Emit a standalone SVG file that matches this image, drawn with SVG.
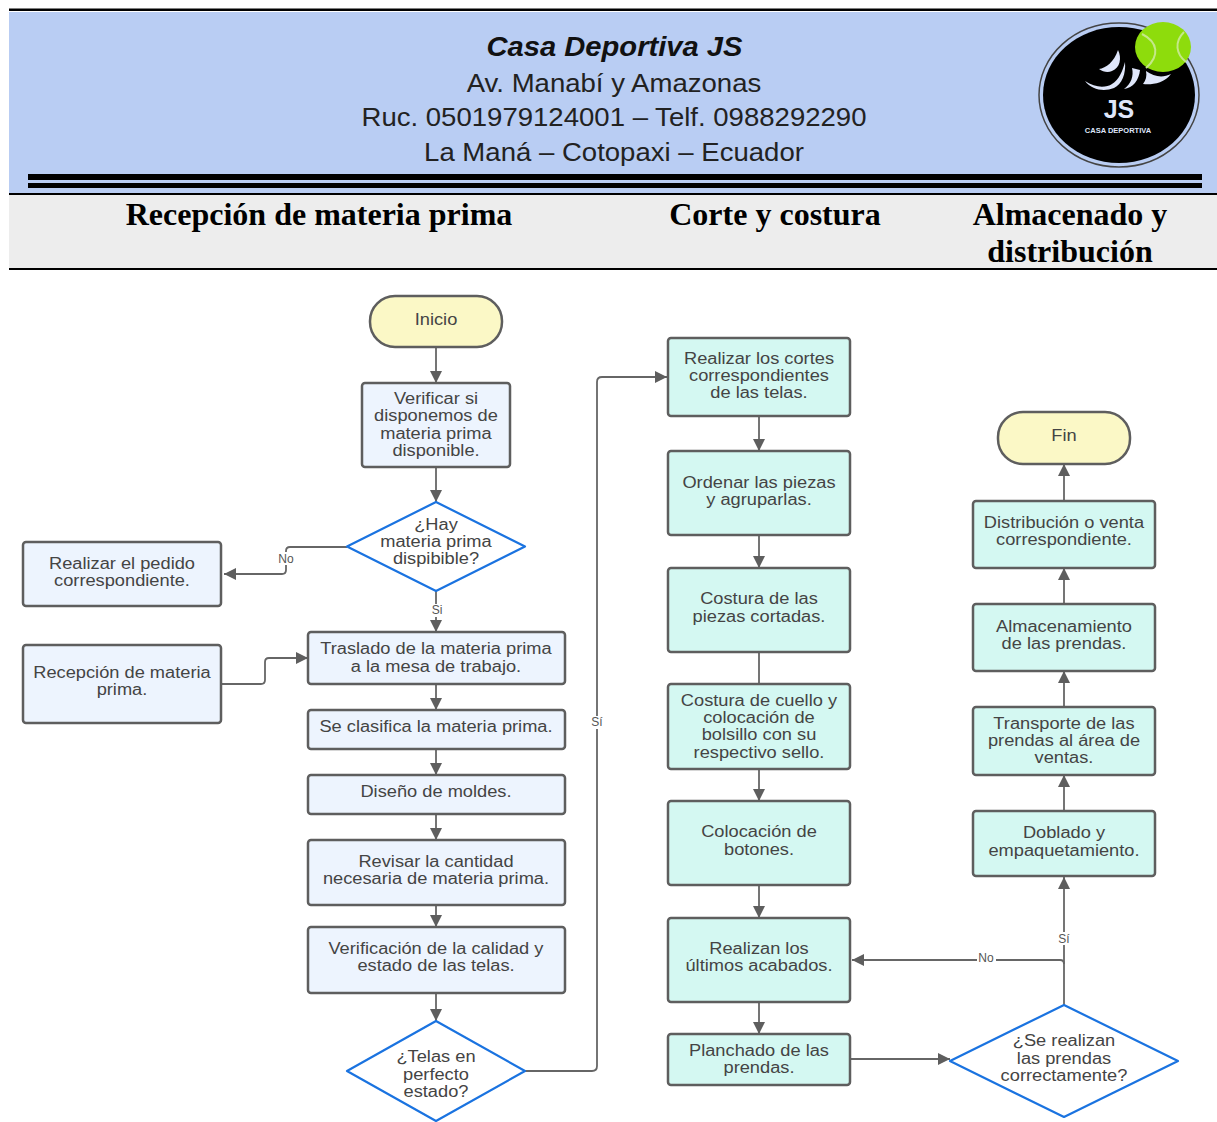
<svg xmlns="http://www.w3.org/2000/svg" width="1217" height="1122" viewBox="0 0 1217 1122">
<style>
.box{stroke:#5e5e5e;stroke-width:2.5}
.a{fill:#edf4fe}.b{fill:#d4f8f2}.t{fill:#fbf8c6}
.d{fill:#fff;stroke:#1a73e0;stroke-width:2.2;stroke-linejoin:round}
.n{font:15.6px "Liberation Sans",Arial,sans-serif;fill:#444;text-anchor:middle;transform-box:fill-box;transform-origin:center;transform:scaleX(1.17)}
.l{font:12px "Liberation Sans",Arial,sans-serif;fill:#555;text-anchor:middle}
.c{fill:none;stroke:#666;stroke-width:1.8}
.h{font:bold 32px "Liberation Serif","Times New Roman",serif;fill:#000;text-anchor:middle}
.a1{font:26px "Liberation Sans",Arial,sans-serif;fill:#222;text-anchor:middle;transform-box:fill-box;transform-origin:center;transform:scaleX(1.06)}
.s{fill:#dfe6fa}
</style>
<defs>
<marker id="ar" markerUnits="userSpaceOnUse" markerWidth="14" markerHeight="12" refX="12" refY="6" orient="auto"><path d="M0 0L12 6L0 12Z" fill="#5e5e5e"/></marker>
</defs>
<rect width="1217" height="1122" fill="#fff"/>
<g id="header">
<rect x="9" y="12" width="1208" height="181" fill="#b9cdf3"/>
<rect x="9" y="8.500" width="1208" height="2.500" fill="#000"/>
<rect x="28" y="174" width="1174" height="6" fill="#000"/>
<rect x="28" y="183" width="1174" height="5" fill="#000"/>
<rect x="9" y="193" width="1208" height="2" fill="#000"/>
<text x="614.500" y="56" text-anchor="middle" style="font:italic bold 27px 'Liberation Sans',Arial,sans-serif;transform-box:fill-box;transform-origin:center;transform:scaleX(1.08)" fill="#111">Casa Deportiva JS</text>
<text class="a1" x="614" y="92">Av. Manabí y Amazonas</text>
<text class="a1" x="614" y="126">Ruc. 0501979124001 – Telf. 0988292290</text>
<text class="a1" x="614" y="161">La Maná – Cotopaxi – Ecuador</text>
</g>
<g id="logo">
<ellipse cx="1119" cy="95" rx="80" ry="72" fill="#b9cdf3" stroke="#444" stroke-width="1.500"/>
<ellipse cx="1119" cy="95" rx="76" ry="68" fill="#000"/>
<path class="s" d="M1118 50C1122 58 1120 68 1112 71C1108 73 1103 72 1099 69C1106 68 1114 62 1118 50Z"/>
<path class="s" d="M1085 81C1095 88 1106 88 1112 84C1119 80 1123 70 1125 62C1126 74 1122 84 1114 88C1104 92 1092 90 1085 81Z"/>
<path class="s" d="M1132 68C1134 76 1131 84 1124 89C1133 88 1139 80 1140 70Z"/>
<path class="s" d="M1146 71C1147 76 1146 80 1143 84C1150 85 1164 84 1171 74C1163 78 1154 77 1146 71Z"/>
<ellipse cx="1163" cy="47" rx="28" ry="25" fill="#8edc0c"/>
<path d="M1142 34C1158 42 1160 56 1146 68M1184 32C1174 42 1176 54 1186 62" fill="none" stroke="#c5e88a" stroke-width="2"/>
<text x="1119" y="118" text-anchor="middle" style="font:bold 25px 'Liberation Sans',Arial,sans-serif" fill="#dfe6fa">JS</text>
<text x="1118" y="133" text-anchor="middle" style="font:bold 7.500px 'Liberation Sans',Arial,sans-serif" fill="#dfe6fa">CASA DEPORTIVA</text>
</g>
<g id="phases">
<rect x="9" y="195" width="1208" height="73" fill="#ededed"/>
<rect x="9" y="268" width="1208" height="2" fill="#000"/>
<text class="h" x="319" y="225">Recepción de materia prima</text>
<text class="h" x="775" y="225">Corte y costura</text>
<text class="h" x="1070" y="225">Almacenado y</text>
<text class="h" x="1070" y="262">distribución</text>
</g>
<g id="connectors">
<path class="c" d="M436 348V383" marker-end="url(#ar)"/>
<path class="c" d="M436 467V502" marker-end="url(#ar)"/>
<path class="c" d="M347 547H290Q286 547 286 551V570Q286 574 282 574H224" marker-end="url(#ar)"/>
<path class="c" d="M436 591V632" marker-end="url(#ar)"/>
<path class="c" d="M222 684H261Q265 684 265 680V662Q265 658 269 658H308" marker-end="url(#ar)"/>
<path class="c" d="M436 684V710" marker-end="url(#ar)"/>
<path class="c" d="M436 749V775" marker-end="url(#ar)"/>
<path class="c" d="M436 814V840" marker-end="url(#ar)"/>
<path class="c" d="M436 905V927" marker-end="url(#ar)"/>
<path class="c" d="M436 993V1021" marker-end="url(#ar)"/>
<path class="c" d="M525 1071H592Q597 1071 597 1066V382Q597 377 602 377H667" marker-end="url(#ar)"/>
<path class="c" d="M759 416V451" marker-end="url(#ar)"/>
<path class="c" d="M759 535V568" marker-end="url(#ar)"/>
<path class="c" d="M759 652V684"/>
<path class="c" d="M759 769V801" marker-end="url(#ar)"/>
<path class="c" d="M759 885V918" marker-end="url(#ar)"/>
<path class="c" d="M759 1002V1034" marker-end="url(#ar)"/>
<path class="c" d="M850 1059H950" marker-end="url(#ar)"/>
<path class="c" d="M1064 1005V877" marker-end="url(#ar)"/>
<path class="c" d="M1064 964Q1064 960 1060 960H852" marker-end="url(#ar)"/>
<path class="c" d="M1064 811V775" marker-end="url(#ar)"/>
<path class="c" d="M1064 707V671" marker-end="url(#ar)"/>
<path class="c" d="M1064 604V568" marker-end="url(#ar)"/>
<path class="c" d="M1064 501V464" marker-end="url(#ar)"/>
<rect x="276" y="552" width="20" height="13" fill="#fff"/><text class="l" x="286" y="563">No</text>
<rect x="429" y="604" width="15" height="13" fill="#fff"/><text class="l" x="437" y="614">Si</text>
<rect x="589" y="716" width="16" height="13" fill="#fff"/><text class="l" x="597" y="726">Sí</text>
<rect x="1056" y="932" width="16" height="13" fill="#fff"/><text class="l" x="1064" y="943">Sí</text>
<rect x="977" y="952" width="19" height="13" fill="#fff"/><text class="l" x="986" y="962">No</text>
</g>
<g id="inicio"><rect class="box t" x="370" y="296" width="132" height="51" rx="25"/><text class="n" x="436" y="325">Inicio</text></g>
<g id="verificar"><rect class="box a" x="362" y="383" width="148" height="84" rx="3"/><text class="n" x="436" y="404">Verificar si</text><text class="n" x="436" y="421">disponemos de</text><text class="n" x="436" y="439">materia prima</text><text class="n" x="436" y="456">disponible.</text></g>
<g id="hay"><path class="d" d="M436 502L525 546.500L436 591L347 546.500Z"/><text class="n" x="436" y="530">¿Hay</text><text class="n" x="436" y="547">materia prima</text><text class="n" x="436" y="564">dispibible?</text></g>
<g id="pedido"><rect class="box a" x="23" y="542" width="198" height="64" rx="3"/><text class="n" x="122" y="569">Realizar el pedido</text><text class="n" x="122" y="586">correspondiente.</text></g>
<g id="recepcion"><rect class="box a" x="23" y="645" width="198" height="78" rx="3"/><text class="n" x="122" y="678">Recepción de materia</text><text class="n" x="122" y="695">prima.</text></g>
<g id="traslado"><rect class="box a" x="308" y="632" width="257" height="52" rx="3"/><text class="n" x="436" y="654">Traslado de la materia prima</text><text class="n" x="436" y="672">a la mesa de trabajo.</text></g>
<g id="clasifica"><rect class="box a" x="308" y="710" width="257" height="39" rx="3"/><text class="n" x="436" y="732">Se clasifica la materia prima.</text></g>
<g id="moldes"><rect class="box a" x="308" y="775" width="257" height="39" rx="3"/><text class="n" x="436" y="797">Diseño de moldes.</text></g>
<g id="revisar"><rect class="box a" x="308" y="840" width="257" height="65" rx="3"/><text class="n" x="436" y="867">Revisar la cantidad</text><text class="n" x="436" y="884">necesaria de materia prima.</text></g>
<g id="calidad"><rect class="box a" x="308" y="927" width="257" height="66" rx="3"/><text class="n" x="436" y="954">Verificación de la calidad y</text><text class="n" x="436" y="971">estado de las telas.</text></g>
<g id="telas"><path class="d" d="M436 1021L525 1071L436 1121L347 1071Z"/><text class="n" x="436" y="1062">¿Telas en</text><text class="n" x="436" y="1080">perfecto</text><text class="n" x="436" y="1097">estado?</text></g>
<g id="cortes"><rect class="box b" x="668" y="338" width="182" height="78" rx="3"/><text class="n" x="759" y="364">Realizar los cortes</text><text class="n" x="759" y="381">correspondientes</text><text class="n" x="759" y="398">de las telas.</text></g>
<g id="ordenar"><rect class="box b" x="668" y="451" width="182" height="84" rx="3"/><text class="n" x="759" y="488">Ordenar las piezas</text><text class="n" x="759" y="505">y agruparlas.</text></g>
<g id="costura"><rect class="box b" x="668" y="568" width="182" height="84" rx="3"/><text class="n" x="759" y="604">Costura de las</text><text class="n" x="759" y="622">piezas cortadas.</text></g>
<g id="cuello"><rect class="box b" x="668" y="684" width="182" height="85" rx="3"/><text class="n" x="759" y="706">Costura de cuello y</text><text class="n" x="759" y="723">colocación de</text><text class="n" x="759" y="740">bolsillo con su</text><text class="n" x="759" y="758">respectivo sello.</text></g>
<g id="botones"><rect class="box b" x="668" y="801" width="182" height="84" rx="3"/><text class="n" x="759" y="837">Colocación de</text><text class="n" x="759" y="855">botones.</text></g>
<g id="acabados"><rect class="box b" x="668" y="918" width="182" height="84" rx="3"/><text class="n" x="759" y="954">Realizan los</text><text class="n" x="759" y="971">últimos acabados.</text></g>
<g id="planchado"><rect class="box b" x="668" y="1034" width="182" height="51" rx="3"/><text class="n" x="759" y="1056">Planchado de las</text><text class="n" x="759" y="1073">prendas.</text></g>
<g id="correcta"><path class="d" d="M1064 1005L1178 1061L1064 1117L950 1061Z"/><text class="n" x="1064" y="1046">¿Se realizan</text><text class="n" x="1064" y="1064">las prendas</text><text class="n" x="1064" y="1081">correctamente?</text></g>
<g id="fin"><rect class="box t" x="998" y="412" width="132" height="52" rx="25"/><text class="n" x="1064" y="441">Fin</text></g>
<g id="distribucion"><rect class="box b" x="973" y="501" width="182" height="67" rx="3"/><text class="n" x="1064" y="528">Distribución o venta</text><text class="n" x="1064" y="545">correspondiente.</text></g>
<g id="almacen"><rect class="box b" x="973" y="604" width="182" height="67" rx="3"/><text class="n" x="1064" y="632">Almacenamiento</text><text class="n" x="1064" y="649">de las prendas.</text></g>
<g id="transporte"><rect class="box b" x="973" y="707" width="182" height="68" rx="3"/><text class="n" x="1064" y="729">Transporte de las</text><text class="n" x="1064" y="746">prendas al área de</text><text class="n" x="1064" y="763">ventas.</text></g>
<g id="doblado"><rect class="box b" x="973" y="811" width="182" height="65" rx="3"/><text class="n" x="1064" y="838">Doblado y</text><text class="n" x="1064" y="856">empaquetamiento.</text></g>
</svg>
